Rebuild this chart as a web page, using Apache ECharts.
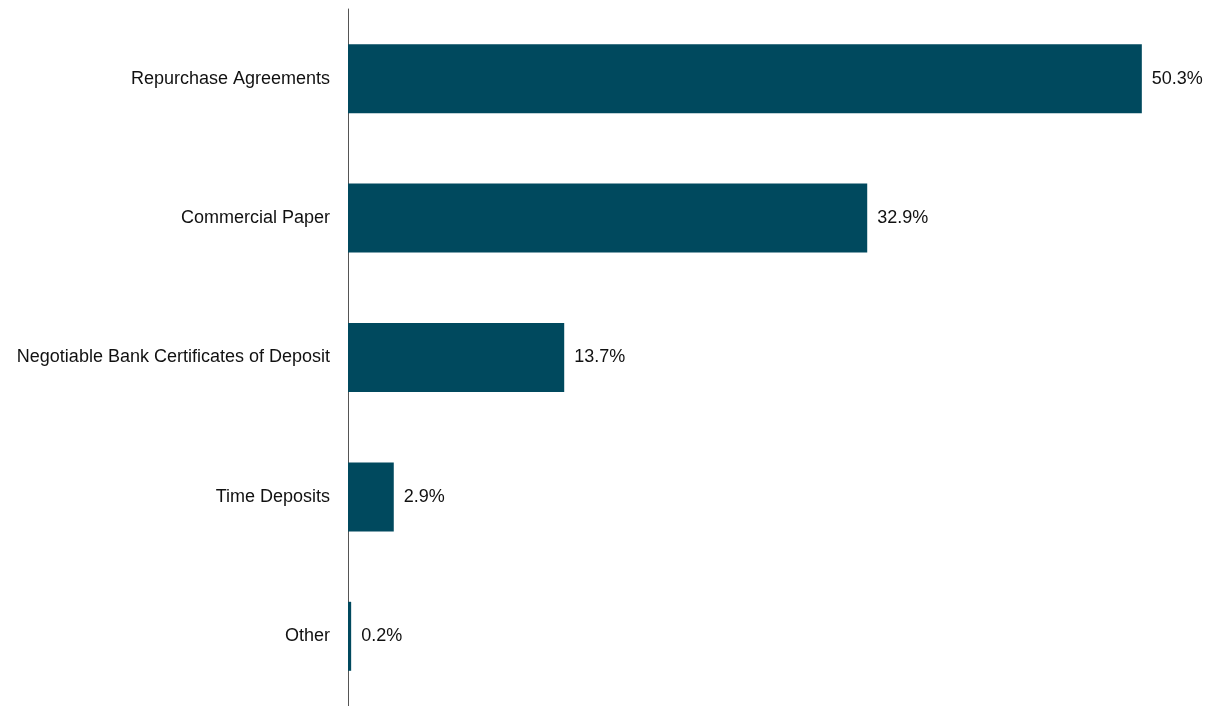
<!DOCTYPE html>
<html><head><meta charset="utf-8">
<script src="https://cdn.jsdelivr.net/npm/echarts@6/dist/echarts.min.js"></script>
<style>html,body{margin:0;padding:0;background:#fff}#c{width:1218px;height:706px}</style>
</head><body><div id="c"></div>
<script>
const categories = ["Repurchase Agreements","Commercial Paper","Negotiable Bank Certificates of Deposit","Time Deposits","Other"];
const values = [50.3, 32.9, 13.7, 2.9, 0.2];
const FONT = '"Liberation Sans Narrow","Arial Narrow","Liberation Sans",Arial,sans-serif';
const chart = echarts.init(document.getElementById('c'));
chart.setOption({
  animation:false,
  grid:{left:348, right:2, top:9, height:700, containLabel:false},
  xAxis:{type:'value', min:0, max:55, show:false},
  yAxis:{type:'category', inverse:true, data:categories,
    axisLine:{show:true, lineStyle:{color:'#555', width:1}},
    axisTick:{show:false},
    axisLabel:{margin:18, color:'#111', fontSize:18, fontFamily:FONT}},
  series:[{type:'bar', data:values, barWidth:69,
    itemStyle:{color:'#00495e'},
    label:{show:true, position:'right', distance:10, color:'#111', fontSize:18, fontFamily:FONT,
      formatter:p=>p.value.toFixed(1)+'%'}}]
});
</script></body></html>
